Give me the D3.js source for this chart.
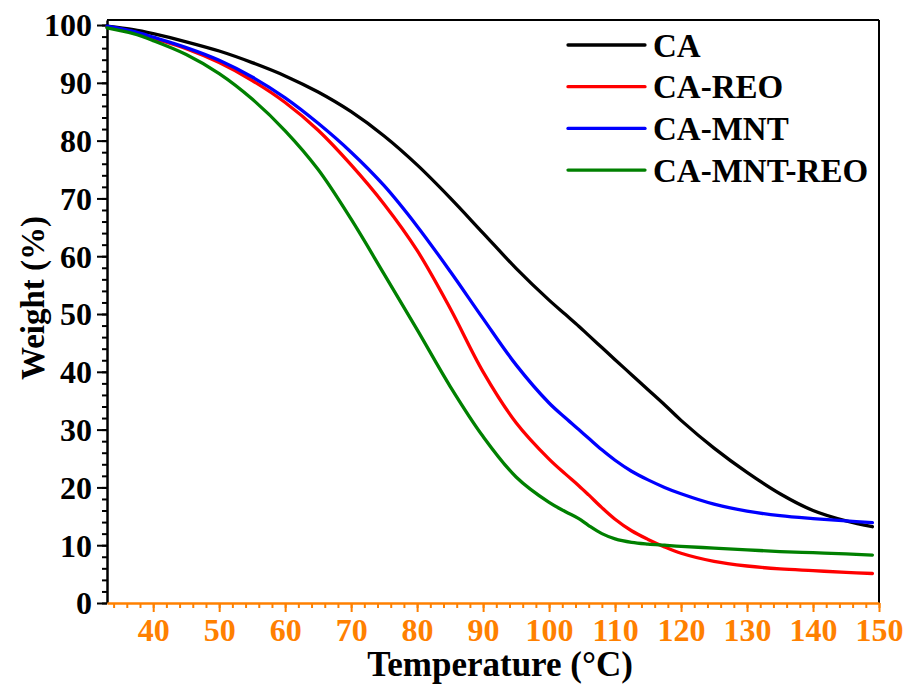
<!DOCTYPE html>
<html><head><meta charset="utf-8">
<script src="https://cdn.jsdelivr.net/npm/d3@7"></script>
<style>body{margin:0;background:#fff}svg{display:block}text{font-family:"Liberation Serif","Times New Roman",serif;font-weight:bold}</style>
</head><body><svg id="c" width="907" height="684"></svg>
<script>
const temperature = [33,37,40,45,50,55,60,65,70,75,80,85,90,95,100,102.5,104.5,106,108,110,112.5,115,117.5,120,125,130,135,140,145,149];
const seriesNames = ["CA","CA-REO","CA-MNT","CA-MNT-REO"];
const seriesColors = ["#000000","#ff0000","#0000ff","#008000"];
const weightCA = [99.8,99.2,98.5,97.1,95.5,93.5,91.2,88.4,85.0,80.8,75.8,70.1,64.0,57.9,52.4,49.9,47.9,46.3,44.2,42.1,39.5,36.9,34.3,31.6,26.8,22.6,18.9,16.0,14.2,13.2];
const weightCAREO = [99.7,98.8,97.7,95.9,93.5,90.4,86.6,81.8,75.8,69.0,61.0,51.0,40.0,31.2,24.9,22.3,20.3,18.7,16.5,14.5,12.5,11.0,9.7,8.6,7.2,6.4,5.9,5.6,5.3,5.1];
const weightCAMNT = [99.8,98.9,97.9,96.1,93.9,91.0,87.4,83.0,78.0,72.2,65.2,57.4,49.2,41.2,34.6,32.0,30.0,28.5,26.5,24.7,22.8,21.3,20.0,18.9,17.1,15.9,15.1,14.6,14.2,13.9];
const weightCAMNTREO = [99.5,98.5,97.3,94.9,91.6,87.2,81.7,75.0,66.4,56.9,47.3,37.5,28.8,21.8,17.4,15.8,14.6,13.4,12.0,11.1,10.5,10.2,10.0,9.8,9.5,9.2,8.9,8.7,8.5,8.3];
const xMajorTicks = [40,50,60,70,80,90,100,110,120,130,140,150];
const yMajorTicks = [0,10,20,30,40,50,60,70,80,90,100];

const allSeries = [weightCA, weightCAREO, weightCAMNT, weightCAMNTREO];
const svg = d3.select("#c");
const L = 107, R = 879, T = 20, B = 603;
const x = d3.scaleLinear().domain([33,150]).range([L,R]);
const y = d3.scaleLinear().domain([0,100.87]).range([B,T]);
const orange = "#ff8000";

// frame top/right
svg.append("line").attr("x1",L).attr("x2",R).attr("y1",T).attr("y2",T).attr("stroke","#000").attr("stroke-width",2);
svg.append("line").attr("x1",R).attr("x2",R).attr("y1",T).attr("y2",B).attr("stroke","#000").attr("stroke-width",2);

// y axis
const yMinor = d3.range(0,101,2);
const gyMin = svg.append("g").attr("transform",`translate(${L},0)`)
  .call(d3.axisLeft(y).tickValues(yMinor).tickSize(5).tickFormat(""));
gyMin.select(".domain").remove();
gyMin.selectAll("line").attr("stroke","#000").attr("stroke-width",2);
const gy = svg.append("g").attr("transform",`translate(${L},0)`)
  .call(d3.axisLeft(y).tickValues(yMajorTicks).tickSize(10).tickPadding(5).tickSizeOuter(0));
gy.select(".domain").attr("stroke","#000").attr("stroke-width",2.5);
gy.selectAll("line").attr("stroke","#000").attr("stroke-width",2);
gy.selectAll("text").attr("font-size",32).attr("fill","#000").attr("dy","0.34em");

// x axis
const xMinor = d3.range(34,151,2);
const gxMin = svg.append("g").attr("transform",`translate(0,${B})`)
  .call(d3.axisBottom(x).tickValues(xMinor).tickSize(5).tickFormat(""));
gxMin.select(".domain").remove();
gxMin.selectAll("line").attr("stroke",orange).attr("stroke-width",2);
const gx = svg.append("g").attr("transform",`translate(0,${B})`)
  .call(d3.axisBottom(x).tickValues(xMajorTicks).tickSize(9).tickPadding(6).tickSizeOuter(0));
gx.select(".domain").attr("stroke",orange).attr("stroke-width",2.5);
gx.selectAll("line").attr("stroke",orange).attr("stroke-width",2);
gx.selectAll("text").attr("font-size",32).attr("fill",orange).attr("dy","0.71em");

// lines
const line = d3.line().x((d,i)=>x(temperature[i])).y(d=>y(d)).curve(d3.curveCatmullRom.alpha(0.5));
allSeries.forEach((s,k)=>{
  svg.append("path").datum(s).attr("d",line).attr("fill","none")
    .attr("stroke",seriesColors[k]).attr("stroke-width",3.3).attr("stroke-linejoin","round").attr("stroke-linecap","round");
});

// legend
const lg = svg.append("g");
seriesNames.forEach((n,k)=>{
  const yy = 45 + k*41.7;
  lg.append("line").attr("x1",568).attr("x2",645).attr("y1",yy).attr("y2",yy)
    .attr("stroke",seriesColors[k]).attr("stroke-width",3.3).attr("stroke-linecap","round");
  lg.append("text").attr("x",653).attr("y",yy+11.5).attr("font-size",33).attr("fill","#000").text(n);
});

// titles
svg.append("text").attr("x",500).attr("y",676).attr("text-anchor","middle").attr("font-size",35).text("Temperature (°C)");
svg.append("text").attr("transform","translate(44,298) rotate(-90)").attr("text-anchor","middle").attr("font-size",33).text("Weight (%)");
</script></body></html>
